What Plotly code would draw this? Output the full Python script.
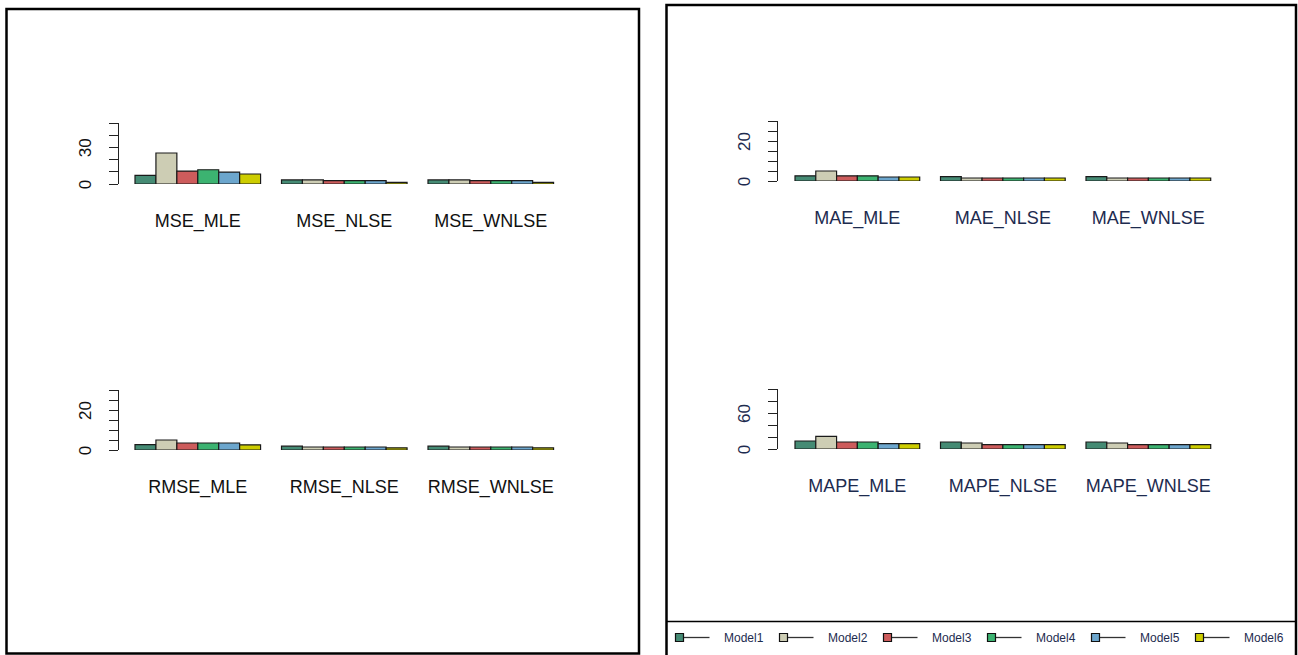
import plotly.graph_objects as go

W, H = 1298, 655

models = ["Model1", "Model2", "Model3", "Model4", "Model5", "Model6"]
colors = ["#458B74", "#CDCDB4", "#CD5C5C", "#3CB371", "#6CA6CD", "#CDCD00"]

mse_cats = ["MSE_MLE", "MSE_NLSE", "MSE_WNLSE"]
rmse_cats = ["RMSE_MLE", "RMSE_NLSE", "RMSE_WNLSE"]
mae_cats = ["MAE_MLE", "MAE_NLSE", "MAE_WNLSE"]
mape_cats = ["MAPE_MLE", "MAPE_NLSE", "MAPE_WNLSE"]

# rows = models, columns = categories
mse_values = [
    [7.0, 3.3, 3.3],
    [25.4, 3.3, 3.3],
    [10.6, 2.7, 2.7],
    [11.7, 2.7, 2.7],
    [9.8, 2.7, 2.7],
    [8.2, 1.3, 1.3],
]
rmse_values = [
    [2.65, 1.9, 1.9],
    [5.0, 1.5, 1.5],
    [3.5, 1.5, 1.5],
    [3.5, 1.5, 1.5],
    [3.5, 1.5, 1.5],
    [2.6, 1.1, 1.1],
]
mae_values = [
    [2.6, 2.2, 2.2],
    [5.0, 1.5, 1.5],
    [2.6, 1.5, 1.5],
    [2.6, 1.5, 1.5],
    [2.0, 1.5, 1.5],
    [2.0, 1.5, 1.5],
]
mape_values = [
    [13.3, 11.7, 11.7],
    [21.0, 10.0, 10.0],
    [11.7, 7.2, 7.2],
    [11.7, 7.2, 7.2],
    [8.9, 7.2, 7.2],
    [8.9, 7.2, 7.2],
]

mse_ticks = [0, 10, 20, 30, 40, 50]
mse_ticktext = ["0", "", "", "30", "", ""]
rmse_ticks = [0, 5, 10, 15, 20, 25, 30]
rmse_ticktext = ["0", "", "", "", "20", "", ""]
mae_ticks = [0, 5, 10, 15, 20, 25, 30]
mae_ticktext = ["0", "", "", "", "20", "", ""]
mape_ticks = [0, 20, 40, 60, 80, 100]
mape_ticktext = ["0", "", "", "60", "", ""]

LEFT_TXT = "#111111"
RIGHT_TXT = "#1d2b4f"

def fx(px):
    return px / W

def fy(py):
    return 1 - py / H

# panel geometry (pixels): axis x, first bar left, group spacing, y of zero, y of top tick
panels = [
    dict(cats=mse_cats, vals=mse_values, ticks=mse_ticks, tt=mse_ticktext,
         ax=119, bar0=135, unit=146.5, y0=184, ytop=123, txt=LEFT_TXT),
    dict(cats=rmse_cats, vals=rmse_values, ticks=rmse_ticks, tt=rmse_ticktext,
         ax=119, bar0=135, unit=146.5, y0=450, ytop=390, txt=LEFT_TXT),
    dict(cats=mae_cats, vals=mae_values, ticks=mae_ticks, tt=mae_ticktext,
         ax=778, bar0=795, unit=145.5, y0=181, ytop=121, txt=RIGHT_TXT),
    dict(cats=mape_cats, vals=mape_values, ticks=mape_ticks, tt=mape_ticktext,
         ax=778, bar0=795, unit=145.5, y0=449, ytop=389, txt=RIGHT_TXT),
]

fig = go.Figure()
layout = {}
for i, p in enumerate(panels, start=1):
    xa = "x" if i == 1 else f"x{i}"
    ya = "y" if i == 1 else f"y{i}"
    for m, (name, col) in enumerate(zip(models, colors)):
        fig.add_trace(go.Bar(
            x=p["cats"], y=p["vals"][m], name=name, xaxis=xa, yaxis=ya,
            marker=dict(color=col, line=dict(color="#1a1a1a", width=1.2)),
            showlegend=False, offsetgroup=str(m),
        ))
    c0 = p["bar0"] + 3 * p["unit"] / 7
    lo = (p["ax"] - c0) / p["unit"]
    hi = 2 - lo
    x_right = p["ax"] + (hi - lo) * p["unit"]
    layout["xaxis" if i == 1 else f"xaxis{i}"] = dict(
        domain=[fx(p["ax"]), fx(x_right)], anchor=ya, range=[lo, hi],
        showline=False, showgrid=False, zeroline=False, ticks="",
        tickfont=dict(family="Liberation Sans, Arial", size=18, color=p["txt"]),
        ticklabelstandoff=24, fixedrange=True, automargin=False,
    )
    layout["yaxis" if i == 1 else f"yaxis{i}"] = dict(
        domain=[fy(p["y0"]), fy(p["ytop"])], anchor=xa,
        range=[p["ticks"][0], p["ticks"][-1]],
        tickvals=p["ticks"], ticktext=p["tt"], tickangle=-90,
        ticks="outside", ticklen=9, tickwidth=1.2, tickcolor="#222222",
        showline=True, linewidth=1.2, linecolor="#222222",
        showgrid=False, zeroline=False,
        tickfont=dict(family="Liberation Sans, Arial", size=17, color=p["txt"]),
        ticklabelstandoff=11, ticklabelshift=3, fixedrange=True, automargin=False,
    )

shapes = []
annotations = []
# panel frames
shapes.append(dict(type="rect", xref="paper", yref="paper",
                   x0=fx(6.5), x1=fx(639), y0=fy(653.5), y1=fy(9),
                   line=dict(color="black", width=2.5)))
shapes.append(dict(type="rect", xref="paper", yref="paper",
                   x0=fx(666.5), x1=fx(1296), y0=fy(662), y1=fy(5),
                   line=dict(color="black", width=2.5)))
shapes.append(dict(type="line", xref="paper", yref="paper",
                   x0=fx(666.5), x1=fx(1296), y0=fy(621.5), y1=fy(621.5),
                   line=dict(color="black", width=1.5)))

# legend, drawn manually in R style (square + line + label)
leg_y = 637.5
for k, (name, col) in enumerate(zip(models, colors)):
    sx = 679.5 + 104 * k
    shapes.append(dict(type="line", xref="paper", yref="paper",
                       x0=fx(sx), x1=fx(sx + 30), y0=fy(leg_y), y1=fy(leg_y),
                       line=dict(color="#333333", width=1.3)))
    shapes.append(dict(type="rect", xref="paper", yref="paper",
                       x0=fx(sx - 4), x1=fx(sx + 4), y0=fy(leg_y + 4), y1=fy(leg_y - 4),
                       fillcolor=col, line=dict(color="#111111", width=1.2)))
    annotations.append(dict(xref="paper", yref="paper", x=fx(sx + 42), y=fy(leg_y),
                            xanchor="left", yanchor="middle", showarrow=False,
                            text=name,
                            font=dict(family="Liberation Sans, Arial", size=12, color=RIGHT_TXT)))

fig.update_layout(
    width=W, height=H, margin=dict(l=0, r=0, t=0, b=0, autoexpand=False),
    paper_bgcolor="white", plot_bgcolor="rgba(0,0,0,0)",
    barmode="group", bargap=1 / 7, bargroupgap=0,
    shapes=shapes, annotations=annotations, showlegend=False,
    **layout,
)

fig.write_html(
    "out.html", config={"displayModeBar": False},
    post_script=("document.body.style.margin='0';"
                 "document.body.style.overflow='hidden';"
                 "document.documentElement.style.overflow='hidden';"),
)
